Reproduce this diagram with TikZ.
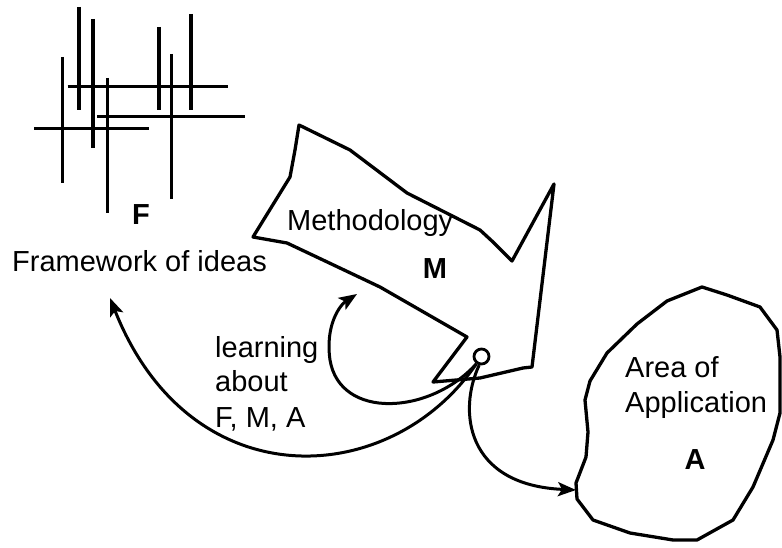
\documentclass[tikz,border=0pt]{standalone}
\usepackage{fontspec}
\setmainfont{Liberation Sans}
\usetikzlibrary{arrows.meta}
\begin{document}
\begin{tikzpicture}[x=1pt,y=-1pt,
  bar/.style={line width=3.6pt},
  outline/.style={line width=3.3pt,line join=round,line cap=round},
  flow/.style={line width=3pt,-{Stealth[length=18pt,width=14pt,inset=4pt]}},
  lbl/.style={inner sep=0pt,font=\fontsize{29}{35}\selectfont},
  blbl/.style={inner sep=0pt,font=\fontsize{29}{35}\selectfont\bfseries}]
\useasboundingbox (0,0) rectangle (782,548);
% framework of ideas
\draw[bar] (78.7,7) -- (78.7,110);
\draw[bar] (93,19) -- (93,148);
\draw[bar] (62.3,57) -- (62.3,183);
\draw[bar] (107.3,78) -- (107.3,213);
\draw[bar] (158.7,27) -- (158.7,110);
\draw[bar] (190.7,14) -- (190.7,110);
\draw[bar] (171.3,54) -- (171.3,199);
\draw[bar] (67.7,86.7) -- (228.3,86.7);
\draw[bar] (97.3,116.7) -- (245,116.7);
\draw[bar] (34,128.7) -- (149.3,128.7);
\node[blbl,anchor=base] (F) at (141,225) {F};
\node[lbl,anchor=base west] (fw) at (12,272) {Framework of ideas};
% methodology arrow
\draw[outline] (299,125) -- (295,150) -- (290,177) -- (253,237) -- (287,243)
  -- (323,260) -- (380,287) -- (467,337) -- (433,382) -- (480,378) -- (523,368)
  -- (532,367) -- (554,184) -- (512,261) -- (493,242) -- (480,230) -- (407,193)
  -- (350,150) -- cycle;
\node[lbl,anchor=base west] (meth) at (287,231) {Methodology};
\node[blbl,anchor=base] (M) at (435,278) {M};
% area of application
\draw[outline] (702,287) -- (727,295) -- (760,307) -- (777,330) -- (780,357)
  -- (780,413) -- (773,440) -- (753,487) -- (733,520) -- (697,540) -- (673,540)
  -- (630,533) -- (593,520) -- (577,499) -- (576,483) -- (586,457) -- (588,432)
  -- (585,400) -- (590,381) -- (607,353) -- (637,324) -- (667,301) -- cycle;
\node[lbl,anchor=base west] (ar1) at (625,377) {Area of};
\node[lbl,anchor=base west] (ar2) at (625,412) {Application};
\node[blbl,anchor=base] (A) at (695,469) {A};
% learning
\node[lbl,anchor=base west] (l1) at (215,357) {learning};
\node[lbl,anchor=base west] (l2) at (215,391) {about};
\node[lbl,anchor=base west] (l3) at (215,427) {F, M, A};
% circle and arrows
\node[circle,draw,line width=2.8pt,minimum size=15pt,inner sep=0pt] (c) at (481.5,356.5) {};
\coordinate (tF) at (110,298);
\coordinate (tM) at (357,294);
\coordinate (tA) at (576,490);
\coordinate (mid) at (330,360);
\draw[flow] (c.235) .. controls (390,490) and (190,500) .. (tF);
\draw[flow] (c.235) .. controls (430,415) and (340,420) .. (mid)
  .. controls (325,325) and (340,305) .. (tM);
\draw[flow] (c.255) .. controls (458,410) and (465,485) .. (tA);
\end{tikzpicture}
\end{document}
